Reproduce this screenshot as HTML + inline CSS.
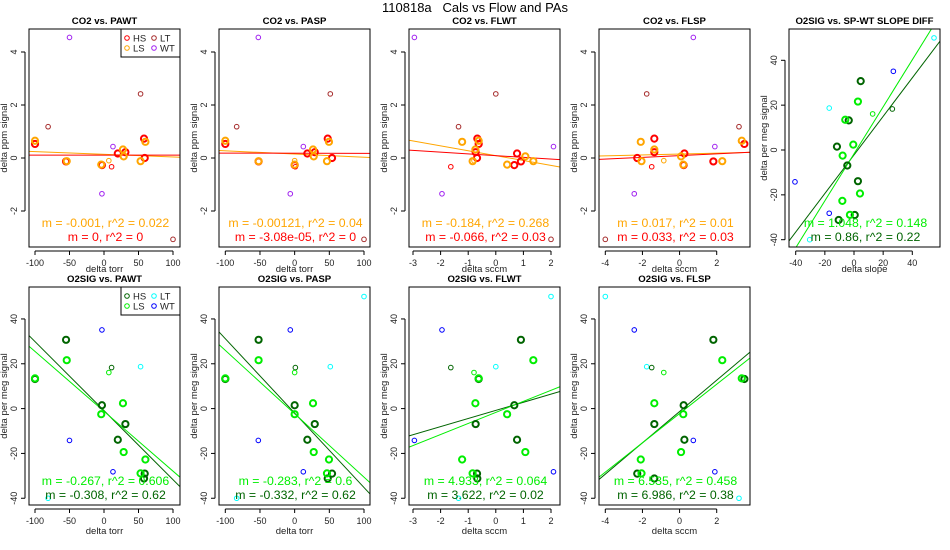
<!DOCTYPE html>
<html><head><meta charset="utf-8">
<style>
html,body{margin:0;padding:0;background:#fff;}
svg{display:block;font-family:"Liberation Sans",sans-serif;}
</style></head>
<body>
<svg id="chart" width="950" height="550" viewBox="0 0 950 550">
<text x="475" y="12" font-size="13" text-anchor="middle" fill="#000" style="white-space:pre" xml:space="preserve">110818a   Cals vs Flow and PAs</text>
</svg>
<script>
// ---- data (per group, per variable) ----
const hsPAWT=[-100,-55,-3,20,31,58,59];
const hsPASP=[-100,-52,0,18.3,29,47.7,53.9];
const hsFLWT=[-0.62,0.91,0.67,0.77,-0.73,-0.67,-0.68];
const hsFLSP=[3.49,1.82,0.22,0.26,-1.36,-1.36,-2.28];
const hsSLOPE=[-3.6,4.6,-11.7,2.7,-4.6,-10.5,0.5];
const hsCO2=[0.53,-0.13,-0.27,0.17,0.22,0.73,0.0];
const hsO2=[13.2,30.7,1.5,-13.9,-6.9,-31.2,-29];

const lsPAWT=[-100,-54,-4,27.5,28.5,60,53];
const lsPASP=[-100,-52,0,26.5,27.5,49.5,46.6];
const lsFLWT=[-0.62,1.36,0.41,-0.74,1.07,-1.22,-0.84];
const lsFLSP=[3.35,2.3,0.2,-1.36,0.08,-2.09,-2.05];
const lsSLOPE=[-6,2.7,-7.8,-0.5,4.1,-8,-2.8];
const lsCO2=[0.65,-0.12,-0.25,0.32,0.06,0.61,-0.12];
const lsO2=[13.5,21.6,-2.5,2.4,-19.4,-22.7,-28.9];

const hsThinPAWT=[11], hsThinPASP=[1], hsThinFLWT=[-1.63], hsThinFLSP=[-1.5], hsThinSLOPE=[26.3], hsThinCO2=[-0.33], hsThinO2=[18.3];
const lsThinPAWT=[7], lsThinPASP=[0], lsThinFLWT=[-0.79], lsThinFLSP=[-0.85], lsThinSLOPE=[12.8], lsThinCO2=[-0.1], lsThinO2=[16.1];

const ltPAWT=[-81,53,100];
const ltPASP=[-83.6,51.4,100];
const ltFLWT=[-1.35,0.0,2.0];
const ltFLSP=[3.2,-1.77,-4.0];
const ltSLOPE=[-30.4,-17,54.9];
const ltCO2=[1.18,2.42,-3.07];
const ltO2=[-40,18.7,50];

const wtPAWT=[-50,13,-3];
const wtPASP=[-52.4,12.5,-6.3];
const wtFLWT=[-2.95,2.09,-1.95];
const wtFLSP=[0.74,1.9,-2.44];
const wtSLOPE=[-40.5,-17,27];
const wtCO2=[4.55,0.43,-1.35];
const wtO2=[-14.2,-28.2,35.1];

// fitted lines [slope, intercept] for HS and LS
const fitCO2hs={PAWT:[0,0.11],PASP:[-3.08e-5,0.18],FLWT:[-0.066,0.09],FLSP:[0.033,0.09]};
const fitCO2ls={PAWT:[-0.001,0.14],PASP:[-0.00121,0.15],FLWT:[-0.184,0.09],FLSP:[0.017,0.15]};
const fitO2hs={PAWT:[-0.308,-0.9],PASP:[-0.332,-2.0],FLWT:[3.622,-0.8],FLSP:[6.986,-1.3],SLOPE:[0.86,-2.2]};
const fitO2ls={PAWT:[-0.267,-1.2],PASP:[-0.283,-2.3],FLWT:[4.933,-1.7],FLSP:[6.535,-2.2],SLOPE:[1.048,-1.7]};
const fitTextCO2hs={PAWT:"m = 0, r^2 = 0",PASP:"m = -3.08e-05, r^2 = 0",FLWT:"m = -0.066, r^2 = 0.03",FLSP:"m = 0.033, r^2 = 0.03"};
const fitTextCO2ls={PAWT:"m = -0.001, r^2 = 0.022",PASP:"m = -0.00121, r^2 = 0.04",FLWT:"m = -0.184, r^2 = 0.268",FLSP:"m = 0.017, r^2 = 0.01"};
const fitTextO2hs={PAWT:"m = -0.308, r^2 = 0.62",PASP:"m = -0.332, r^2 = 0.62",FLWT:"m = 3.622, r^2 = 0.02",FLSP:"m = 6.986, r^2 = 0.38",SLOPE:"m = 0.86, r^2 = 0.22"};
const fitTextO2ls={PAWT:"m = -0.267, r^2 = 0.606",PASP:"m = -0.283, r^2 = 0.6",FLWT:"m = 4.933, r^2 = 0.064",FLSP:"m = 6.535, r^2 = 0.458",SLOPE:"m = 1.048, r^2 = 0.148"};

const ticksTorr=[-100,-50,0,50,100];
const ticksFLWT=[-3,-2,-1,0,1,2];
const ticksFLSP=[-4,-2,0,2];
const ticksSLOPE=[-40,-20,0,20,40];
const ticksCO2=[-2,0,2,4];
const ticksO2=[-40,-20,0,20,40];

// ---- layout ----
const NS="http://www.w3.org/2000/svg";
const svg=document.getElementById('chart');
function el(tag,attrs,parent){const e=document.createElementNS(NS,tag);for(const k in attrs)e.setAttribute(k,attrs[k]);(parent||svg).appendChild(e);return e;}
const xCal={PAWT:[-100,6,100,144],PASP:[-100,6.3,100,145],FLWT:[-3,4,2,142],FLSP:[-4,6.3,2,117.7],SLOPE:[-40,6.7,40,123.3]};
const xLab={PAWT:"delta torr",PASP:"delta torr",FLWT:"delta sccm",FLSP:"delta sccm",SLOPE:"delta slope"};
const xTicks={PAWT:ticksTorr,PASP:ticksTorr,FLWT:ticksFLWT,FLSP:ticksFLSP,SLOPE:ticksSLOPE};
const data={
 hs:{PAWT:hsPAWT,PASP:hsPASP,FLWT:hsFLWT,FLSP:hsFLSP,SLOPE:hsSLOPE,CO2:hsCO2,O2:hsO2},
 ls:{PAWT:lsPAWT,PASP:lsPASP,FLWT:lsFLWT,FLSP:lsFLSP,SLOPE:lsSLOPE,CO2:lsCO2,O2:lsO2},
 hsThin:{PAWT:hsThinPAWT,PASP:hsThinPASP,FLWT:hsThinFLWT,FLSP:hsThinFLSP,SLOPE:hsThinSLOPE,CO2:hsThinCO2,O2:hsThinO2},
 lsThin:{PAWT:lsThinPAWT,PASP:lsThinPASP,FLWT:lsThinFLWT,FLSP:lsThinFLSP,SLOPE:lsThinSLOPE,CO2:lsThinCO2,O2:lsThinO2},
 lt:{PAWT:ltPAWT,PASP:ltPASP,FLWT:ltFLWT,FLSP:ltFLSP,SLOPE:ltSLOPE,CO2:ltCO2,O2:ltO2},
 wt:{PAWT:wtPAWT,PASP:wtPASP,FLWT:wtFLWT,FLSP:wtFLSP,SLOPE:wtSLOPE,CO2:wtCO2,O2:wtO2}
};
const colCO2={hs:"#ff0000",ls:"#ffa500",hsThin:"#ff0000",lsThin:"#ffa500",lt:"#a52a2a",wt:"#a020f0"};
const colO2={hs:"#006400",ls:"#00ee00",hsThin:"#006400",lsThin:"#00ee00",lt:"#00ffff",wt:"#0000ff"};

const panels=[
 {xv:"PAWT",yv:"CO2",col:0,row:0,title:"CO2 vs. PAWT",legend:true},
 {xv:"PASP",yv:"CO2",col:1,row:0,title:"CO2 vs. PASP"},
 {xv:"FLWT",yv:"CO2",col:2,row:0,title:"CO2 vs. FLWT"},
 {xv:"FLSP",yv:"CO2",col:3,row:0,title:"CO2 vs. FLSP"},
 {xv:"SLOPE",yv:"O2",col:4,row:0,title:"O2SIG vs. SP-WT SLOPE DIFF",y5:true},
 {xv:"PAWT",yv:"O2",col:0,row:1,title:"O2SIG vs. PAWT",legend:true},
 {xv:"PASP",yv:"O2",col:1,row:1,title:"O2SIG vs. PASP"},
 {xv:"FLWT",yv:"O2",col:2,row:1,title:"O2SIG vs. FLWT"},
 {xv:"FLSP",yv:"O2",col:3,row:1,title:"O2SIG vs. FLSP"}
];

panels.forEach((p,i)=>{
 const x0=29+190*p.col, w=151;
 const y0=p.row===0?29:287, h=218;
 const c=xCal[p.xv];
 const xs=v=>x0+c[1]+(v-c[0])*(c[3]-c[1])/(c[2]-c[0]);
 const xinv=px=>c[0]+(px-x0-c[1])*(c[2]-c[0])/(c[3]-c[1]);
 let ys;
 if(p.yv==="CO2") ys=v=>158-v*26.5;
 else if(p.y5) ys=v=>150-v*2.2425;
 else ys=v=>408.6-v*2.2413;
 const g=el('g',{});
 
 
 const cp=el('clipPath',{id:'cp'+i},g);
 el('rect',{x:x0,y:y0,width:w,height:h},cp);
 const t=el('text',{x:x0+w/2,y:y0-5,'font-size':9.6,'font-weight':'bold','text-anchor':'middle'},g);
 t.textContent=p.title;
 
 
 const xt=xTicks[p.xv];
 const ax=el('g',{stroke:'#000','stroke-width':1},g);
 
 
 el('line',{x1:xs(xt[0]),x2:xs(xt[xt.length-1]),y1:y0+h+4,y2:y0+h+4},ax);
 xt.forEach(v=>{
  el('line',{x1:xs(v),x2:xs(v),y1:y0+h+4,y2:y0+h+8},ax);
  const tl=el('text',{x:xs(v),y:y0+h+19,'font-size':9,'text-anchor':'middle',fill:'#222',stroke:'none'},g);
  tl.textContent=String(v);
  
  
 });
 const xl=el('text',{x:x0+w/2,y:y0+h+(p.row===0?25:29),'font-size':9.5,'text-anchor':'middle',fill:'#222'},g);
 xl.textContent=xLab[p.xv];
 
 
 const yt=p.yv==="CO2"?ticksCO2:ticksO2;
 const ay=el('g',{stroke:'#000','stroke-width':1},g);
 
 
 el('line',{x1:x0-4,x2:x0-4,y1:ys(yt[0]),y2:ys(yt[yt.length-1])},ay);
 yt.forEach(v=>{
  el('line',{x1:x0-4,x2:x0-8,y1:ys(v),y2:ys(v)},ay);
  const tl=el('text',{x:x0-12,y:ys(v),'font-size':9,'text-anchor':'middle',fill:'#222',stroke:'none',transform:`rotate(-90 ${x0-12} ${ys(v)})`},g);
  tl.textContent=String(v);
  
  
 });
 const ylx=x0-22, yly=y0+h/2;
 const yl=el('text',{x:ylx,y:yly,'font-size':9.5,'text-anchor':'middle',fill:'#222',transform:`rotate(-90 ${ylx} ${yly})`},g);
 yl.textContent=p.yv==="CO2"?"delta ppm signal":"delta per meg signal";
 
 
 const fits=p.yv==="CO2"?[[fitCO2ls,colCO2.ls,'ls'],[fitCO2hs,colCO2.hs,'hs']]:[[fitO2hs,colO2.hs,'hs'],[fitO2ls,colO2.ls,'ls']];
 fits.forEach(([f,col,nm])=>{
  const mb=f[p.xv];
  const xa=xinv(x0), xb=xinv(x0+w);
  const ln=el('line',{x1:xs(xa),y1:ys(mb[0]*xa+mb[1]),x2:xs(xb),y2:ys(mb[0]*xb+mb[1]),stroke:col,'stroke-width':1,'clip-path':`url(#cp${i})`},g);
  
  
 });
 const cols=p.yv==="CO2"?colCO2:colO2;
 ['lt','wt','hsThin','lsThin','hs','ls'].forEach(grp=>{
  const X=data[grp][p.xv], Y=data[grp][p.yv];
  const thick=(grp==='hs'||grp==='ls');
  X.forEach((xv,k)=>{
   const cc=el('circle',{cx:xs(xv),cy:ys(Y[k]),r:thick?3.1:2.3,fill:'none',stroke:cols[grp],'stroke-width':thick?2:1,'clip-path':`url(#cp${i})`},g);
   
   
  });
 });
 const ft=p.yv==="CO2"?[[fitTextCO2ls,colCO2.ls,198],[fitTextCO2hs,colCO2.hs,212]]:[[fitTextO2ls,colO2.ls,198],[fitTextO2hs,colO2.hs,212]];
 ft.forEach(([tx,col,off])=>{
  const tt=el('text',{x:x0+w/2+1,y:y0+off,'font-size':12.3,'text-anchor':'middle',fill:col},g);
  tt.textContent=tx[p.xv];
  
  
 });
 if(p.legend){
  const lg=el('g',{},g);
  
  
  el('rect',{x:x0+92,y:y0,width:59,height:28,fill:'#fff',stroke:'#000','stroke-width':1},lg);
  [['hs','HS',0,0],['lt','LT',1,0],['ls','LS',0,1],['wt','WT',1,1]].forEach(([k,lab,cx,cy])=>{
   const lx=x0+98+cx*27, ly=y0+9+cy*10;
   const lc=el('circle',{cx:lx,cy:ly,r:2.3,fill:'none',stroke:cols[k],'stroke-width':1},lg);
   
   
   const lt=el('text',{x:lx+6,y:ly+3.5,'font-size':9.5,fill:'#222'},lg);
   lt.textContent=lab;
   
   
  });
 }
 const bx=el('rect',{x:x0,y:y0,width:w,height:h,fill:'none',stroke:'#000','stroke-width':1},g);
 
 
});
</script>
</body></html>
